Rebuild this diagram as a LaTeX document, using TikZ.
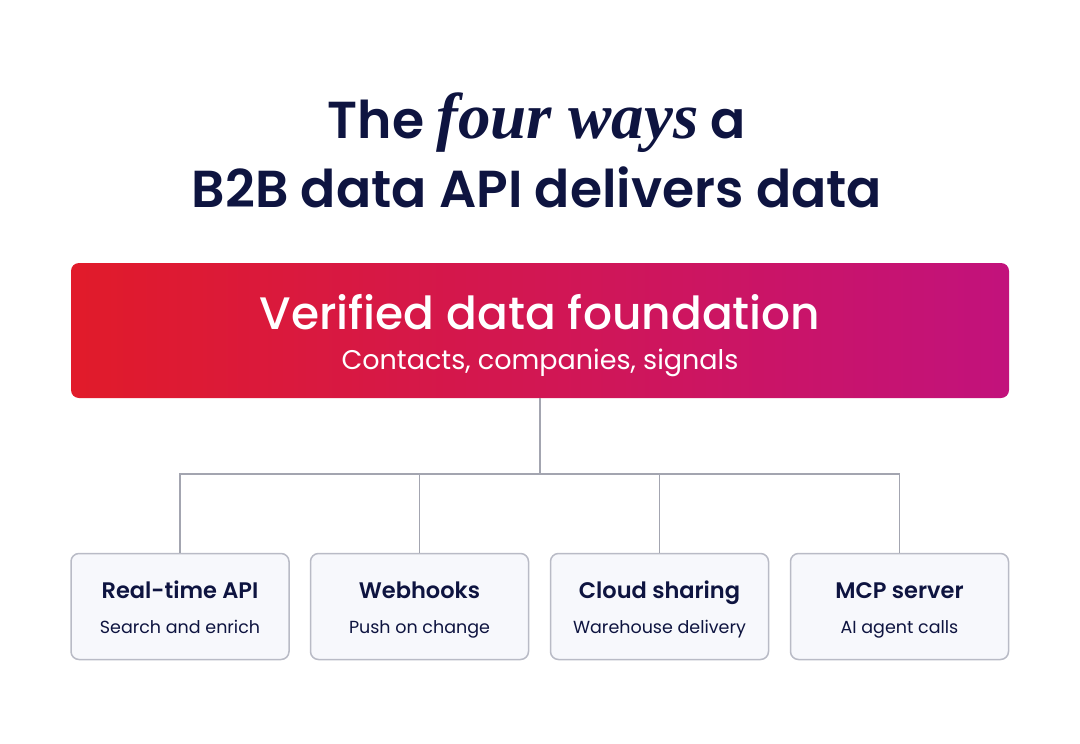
\documentclass[tikz,border=0pt]{standalone}
\usepackage{fontspec}
\setmainfont{Poppins}[BoldFont={Poppins SemiBold}]
\newfontfamily\mediumfont{Poppins Medium}
\newfontfamily\accentfont{Liberation Serif}
\usetikzlibrary{positioning}
\usepackage{xcolor}

\definecolor{navy}{HTML}{0E1440}
\definecolor{brandred}{HTML}{E11B2A}
\definecolor{brandpink}{HTML}{C2127C}
\definecolor{linegray}{HTML}{A3A5B0}
\definecolor{boxedge}{HTML}{B9BBC6}
\definecolor{boxfill}{HTML}{F7F8FC}

\newcommand{\waytext}[2]{{\fontsize{22.5}{26}\selectfont\bfseries\rule{0pt}{24pt}#1}\\#2\rule[-6pt]{0pt}{6pt}}

\begin{document}
\begin{tikzpicture}[x=1pt, y=-1pt,
    found/.style={rounded corners=8pt, minimum width=938pt, minimum height=135pt, left color=brandred, right color=brandpink},
    foundtext/.style={align=center, text=white, font=\fontsize{27}{40}\selectfont},
    way/.style={draw=boxedge, line width=1.5pt, fill=boxfill, rounded corners=8pt, minimum width=218pt, minimum height=106pt, align=center, text=navy, font=\fontsize{17.5}{35}\selectfont},
    link/.style={draw=linegray, line width=1.6pt}
]
    \useasboundingbox (0,0) rectangle (1080,744);

    \node[text=navy, align=center, font=\fontsize{52}{69}\selectfont\bfseries] (title) at (537,150)
        {The {\accentfont\bfseries\itshape\fontsize{65}{69}\selectfont four ways} a\\B2B data API delivers data};

    \node[found] (base) at (540,330.5) {};
    \node[foundtext] (basetext) at (540,336)
        {{\mediumfont\fontsize{45.5}{50}\selectfont Verified data foundation}\\Contacts, companies, signals};

    \node[way] (api) at (180,606.5) {\waytext{Real-time API}{Search and enrich}};
    \node[way] (hook) at (419.5,606.5) {\waytext{Webhooks}{Push on change}};
    \node[way] (cloud) at (659.5,606.5) {\waytext{Cloud sharing}{Warehouse delivery}};
    \node[way] (mcp) at (899.5,606.5) {\waytext{MCP server}{AI agent calls}};

    \coordinate (hub) at (540,474);
    \draw[link] (base.south) -- (hub);
    \draw[link] (api.north) |- (hub) -| (mcp.north);
    \draw[link] (hook.north) |- (hub);
    \draw[link] (cloud.north) |- (hub);
\end{tikzpicture}
\end{document}
